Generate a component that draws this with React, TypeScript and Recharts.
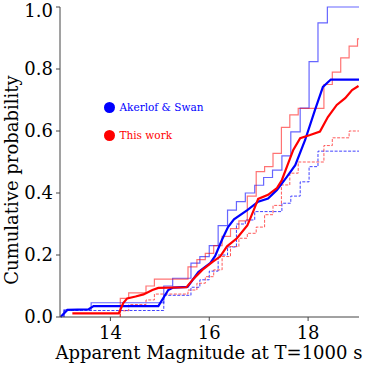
import { LineChart, Line, XAxis, YAxis, Legend, Label } from 'recharts';

// Akerlof & Swan cumulative steps (bin left edges, magnitude)
const asEdges = [13.06, 13.24, 13.42, 13.61, 13.79, 13.98, 14.16, 14.34, 14.53, 14.71, 14.9, 15.08, 15.26, 15.45, 15.63, 15.81, 16.0, 16.18, 16.37, 16.55, 16.73, 16.92, 17.1, 17.28, 17.47, 17.65, 17.84, 18.02, 18.2, 18.39];
const asSolid = [0.023, 0.023, 0.023, 0.046, 0.046, 0.046, 0.046, 0.046, 0.046, 0.046, 0.046, 0.1, 0.125, 0.125, 0.174, 0.195, 0.23, 0.295, 0.345, 0.372, 0.4, 0.425, 0.45, 0.474, 0.52, 0.597, 0.674, 0.824, 0.949, 1.0];
const asDashed = [0.021, 0.021, 0.021, 0.021, 0.021, 0.021, 0.021, 0.021, 0.021, 0.021, 0.021, 0.07, 0.07, 0.07, 0.096, 0.12, 0.148, 0.2, 0.226, 0.3, 0.313, 0.34, 0.34, 0.34, 0.367, 0.39, 0.436, 0.485, 0.535, 0.535];

// This work cumulative steps
const twEdges = [14.2, 14.37, 14.54, 14.72, 14.89, 15.06, 15.23, 15.4, 15.57, 15.75, 15.92, 16.09, 16.26, 16.43, 16.6, 16.77, 16.95, 17.12, 17.29, 17.46, 17.63, 17.8, 17.97, 18.15, 18.32, 18.49, 18.66, 18.83, 19.0];
const twSolid = [0.06, 0.078, 0.078, 0.1, 0.122, 0.122, 0.122, 0.122, 0.162, 0.185, 0.205, 0.23, 0.26, 0.285, 0.31, 0.39, 0.469, 0.485, 0.528, 0.612, 0.652, 0.673, 0.673, 0.673, 0.75, 0.79, 0.836, 0.874, 0.897];
const twDashed = [0.02, 0.04, 0.04, 0.055, 0.074, 0.074, 0.074, 0.074, 0.087, 0.109, 0.13, 0.152, 0.195, 0.227, 0.254, 0.27, 0.29, 0.33, 0.36, 0.426, 0.464, 0.5, 0.5, 0.5, 0.553, 0.578, 0.578, 0.6, 0.6];

// smoothed curves
const asSmoothX = [12.99, 13.13, 13.56, 13.66, 14.97, 15.17, 15.27, 15.56, 15.78, 16.02, 16.12, 16.26, 16.38, 16.5, 16.77, 16.99, 17.19, 17.37, 17.57, 17.74, 17.94, 18.14, 18.3, 18.46, 19.03];
const asSmoothY = [0.0, 0.023, 0.025, 0.035, 0.035, 0.087, 0.095, 0.097, 0.145, 0.174, 0.197, 0.25, 0.29, 0.315, 0.345, 0.372, 0.382, 0.41, 0.452, 0.49, 0.571, 0.668, 0.742, 0.766, 0.766];
const twSmoothX = [13.23, 14.17, 14.26, 14.34, 14.51, 14.67, 14.85, 14.97, 15.54, 15.68, 15.86, 16.06, 16.22, 16.36, 16.56, 16.77, 16.9, 16.99, 17.19, 17.37, 17.47, 17.57, 17.7, 17.84, 18.04, 18.24, 18.4, 18.58, 18.75, 18.89, 19.02];
const twSmoothY = [0.012, 0.012, 0.045, 0.06, 0.066, 0.073, 0.087, 0.094, 0.096, 0.123, 0.152, 0.177, 0.195, 0.228, 0.254, 0.295, 0.345, 0.381, 0.394, 0.416, 0.442, 0.484, 0.539, 0.577, 0.587, 0.598, 0.645, 0.684, 0.706, 0.732, 0.745];

const stepEnd = 19.2;
const xTicks = [14, 16, 18];
const yTicks = [0, 0.2, 0.4, 0.6, 0.8, 1.0];
const seriesNames = ['Akerlof & Swan', 'This work'];

const BLUE = '#0000ff';
const RED = '#ff0000';
const FONT = 'DejaVu Serif, Liberation Serif, serif';

function steps(edges: number[], vals: number[]) {
  const pts = [{ x: edges[0], y: 0 }];
  edges.forEach((x, i) => pts.push({ x, y: vals[i] }));
  pts.push({ x: stepEnd, y: vals[vals.length - 1] });
  return pts;
}

function curve(xs: number[], ys: number[]) {
  return xs.map((x, i) => ({ x, y: ys[i] }));
}

function LegendBox() {
  const colors = [BLUE, RED];
  return (
    <div style={{ fontFamily: FONT, fontSize: 10.5 }}>
      {seriesNames.map((name, i) => (
        <div key={name} style={{ display: 'flex', alignItems: 'center', height: 11, marginBottom: 17 }}>
          <span style={{ width: 11, height: 11, borderRadius: '50%', background: colors[i], display: 'inline-block' }} />
          <span style={{ color: colors[i], marginLeft: 5 }}>{name}</span>
        </div>
      ))}
    </div>
  );
}

export default function App() {
  const axisColor = '#444';
  return (
    <div style={{ position: 'absolute', left: 0, top: 0 }}>
      <LineChart width={374} height={374} margin={{ top: 7, right: 15, left: 0, bottom: 0 }}>
        <XAxis
          dataKey="x"
          type="number"
          domain={[12.98, 19.03]}
          allowDataOverflow
          ticks={xTicks}
          height={57}
          tickSize={4}
          tickMargin={5}
          stroke={axisColor}
          tick={{ fill: '#000', fontSize: 18, fontFamily: FONT }}
        >
          <Label
            content={() => (
              <text x={209} y={359} textAnchor="middle" fontFamily={FONT} fontSize={18} fill="#000">
                Apparent Magnitude at T=1000 s
              </text>
            )}
          />
        </XAxis>
        <XAxis xAxisId="top" orientation="top" type="number" domain={[12.98, 19.03]} height={0} tick={false} tickLine={false} stroke="#222" />
        <YAxis
          type="number"
          domain={[0, 1]}
          ticks={yTicks}
          width={60}
          tickSize={4}
          tickMargin={3}
          stroke={axisColor}
          tickFormatter={(v: number) => v.toFixed(1)}
          tick={{ fill: '#000', fontSize: 18, fontFamily: FONT }}
        >
          <Label
            content={() => (
              <text transform="rotate(-90)" x={-180} y={18} textAnchor="middle" fontFamily={FONT} fontSize={18} fill="#000">
                Cumulative probability
              </text>
            )}
          />
        </YAxis>
        <YAxis yAxisId="right" orientation="right" domain={[0, 1]} width={0} tick={false} tickLine={false} stroke={axisColor} />
        <Legend
          layout="horizontal"
          verticalAlign="middle"
          content={() => <LegendBox />}
          wrapperStyle={{ left: 103.5, top: 101.5, width: 'auto' }}
        />
        <Line data={steps(asEdges, asSolid)} dataKey="y" type="stepAfter" stroke={BLUE} strokeOpacity={0.6} strokeWidth={1.2} dot={false} activeDot={false} isAnimationActive={false} />
        <Line data={steps(asEdges, asDashed)} dataKey="y" type="stepAfter" stroke={BLUE} strokeOpacity={0.75} strokeWidth={1} strokeDasharray="3 1.5" dot={false} activeDot={false} isAnimationActive={false} />
        <Line data={steps(twEdges, twSolid)} dataKey="y" type="stepAfter" stroke={RED} strokeOpacity={0.55} strokeWidth={1.2} dot={false} activeDot={false} isAnimationActive={false} />
        <Line data={steps(twEdges, twDashed)} dataKey="y" type="stepAfter" stroke={RED} strokeOpacity={0.65} strokeWidth={1} strokeDasharray="3 1.5" dot={false} activeDot={false} isAnimationActive={false} />
        <Line data={curve(asSmoothX, asSmoothY)} dataKey="y" type="linear" stroke={BLUE} strokeWidth={2.2} dot={false} activeDot={false} isAnimationActive={false} />
        <Line data={curve(twSmoothX, twSmoothY)} dataKey="y" type="linear" stroke={RED} strokeWidth={2.2} dot={false} activeDot={false} isAnimationActive={false} />
      </LineChart>
    </div>
  );
}
